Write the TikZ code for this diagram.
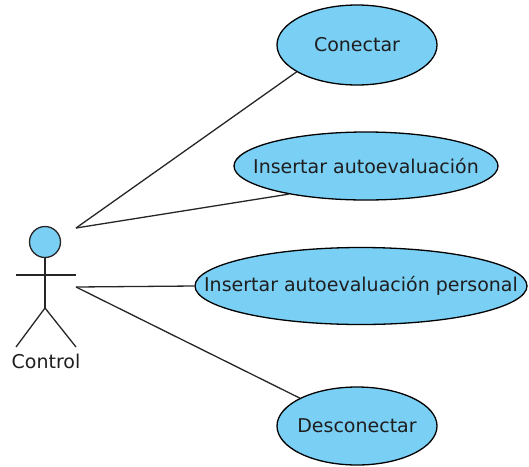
\documentclass[tikz,border=0pt]{standalone}
\usepackage{fontspec}
\setmainfont{DejaVu Sans}
\usetikzlibrary{shapes.geometric}
\definecolor{ucfill}{RGB}{122,207,245}
\definecolor{uctext}{RGB}{30,30,30}
\tikzset{
  usecase/.style={ellipse, draw=black, line width=1.3pt, fill=ucfill, inner sep=0pt},
  uctxt/.style={text=uctext, font=\fontsize{19}{22}\selectfont, inner sep=0pt},
  assoc/.style={draw=black!85, line width=1.3pt},
  actorline/.style={draw=black!85, line width=1.3pt}
}
\begin{document}
\begin{tikzpicture}[x=1pt,y=-1pt]
\useasboundingbox (0,0) rectangle (529,466);
% actor
\node[circle, draw=black!85, line width=1.3pt, fill=ucfill, minimum size=31pt, inner sep=0pt] (head) at (45,242) {};
\coordinate (hip) at (45,308);
\coordinate (armL) at (16,275);
\coordinate (armR) at (76,275);
\coordinate (legL) at (16,347);
\coordinate (legR) at (76,347);
\draw[actorline] (head.south) -- (hip);
\draw[actorline] (armL) -- (armR);
\draw[actorline] (legL) -- (hip) -- (legR);
\node[uctxt] (control) at (46,361) {Control};
\coordinate (a1) at (76,228);
\coordinate (a2) at (76,287);
% use cases
\node[usecase, minimum width=160pt, minimum height=80pt] (u1) at (357,45) {};
\node[uctxt] (u1t) at (u1.center) {Conectar};
\node[usecase, minimum width=264pt, minimum height=68pt] (u2) at (366,166) {};
\node[uctxt] (u2t) at (u2.center) {Insertar autoevaluación};
\node[usecase, minimum width=332pt, minimum height=77pt] (u3) at (361,286) {};
\node[uctxt] (u3t) at (u3.center) {Insertar autoevaluación personal};
\node[usecase, minimum width=160pt, minimum height=78pt] (u4) at (357,426) {};
\node[uctxt] (u4t) at (u4.center) {Desconectar};
% associations
\draw[assoc] (a1) -- (u1.204);
\draw[assoc] (a1) -- (u2.200);
\draw[assoc] (a2) -- (u3.west);
\draw[assoc] (a2) -- (u4.154);
\end{tikzpicture}
\end{document}
